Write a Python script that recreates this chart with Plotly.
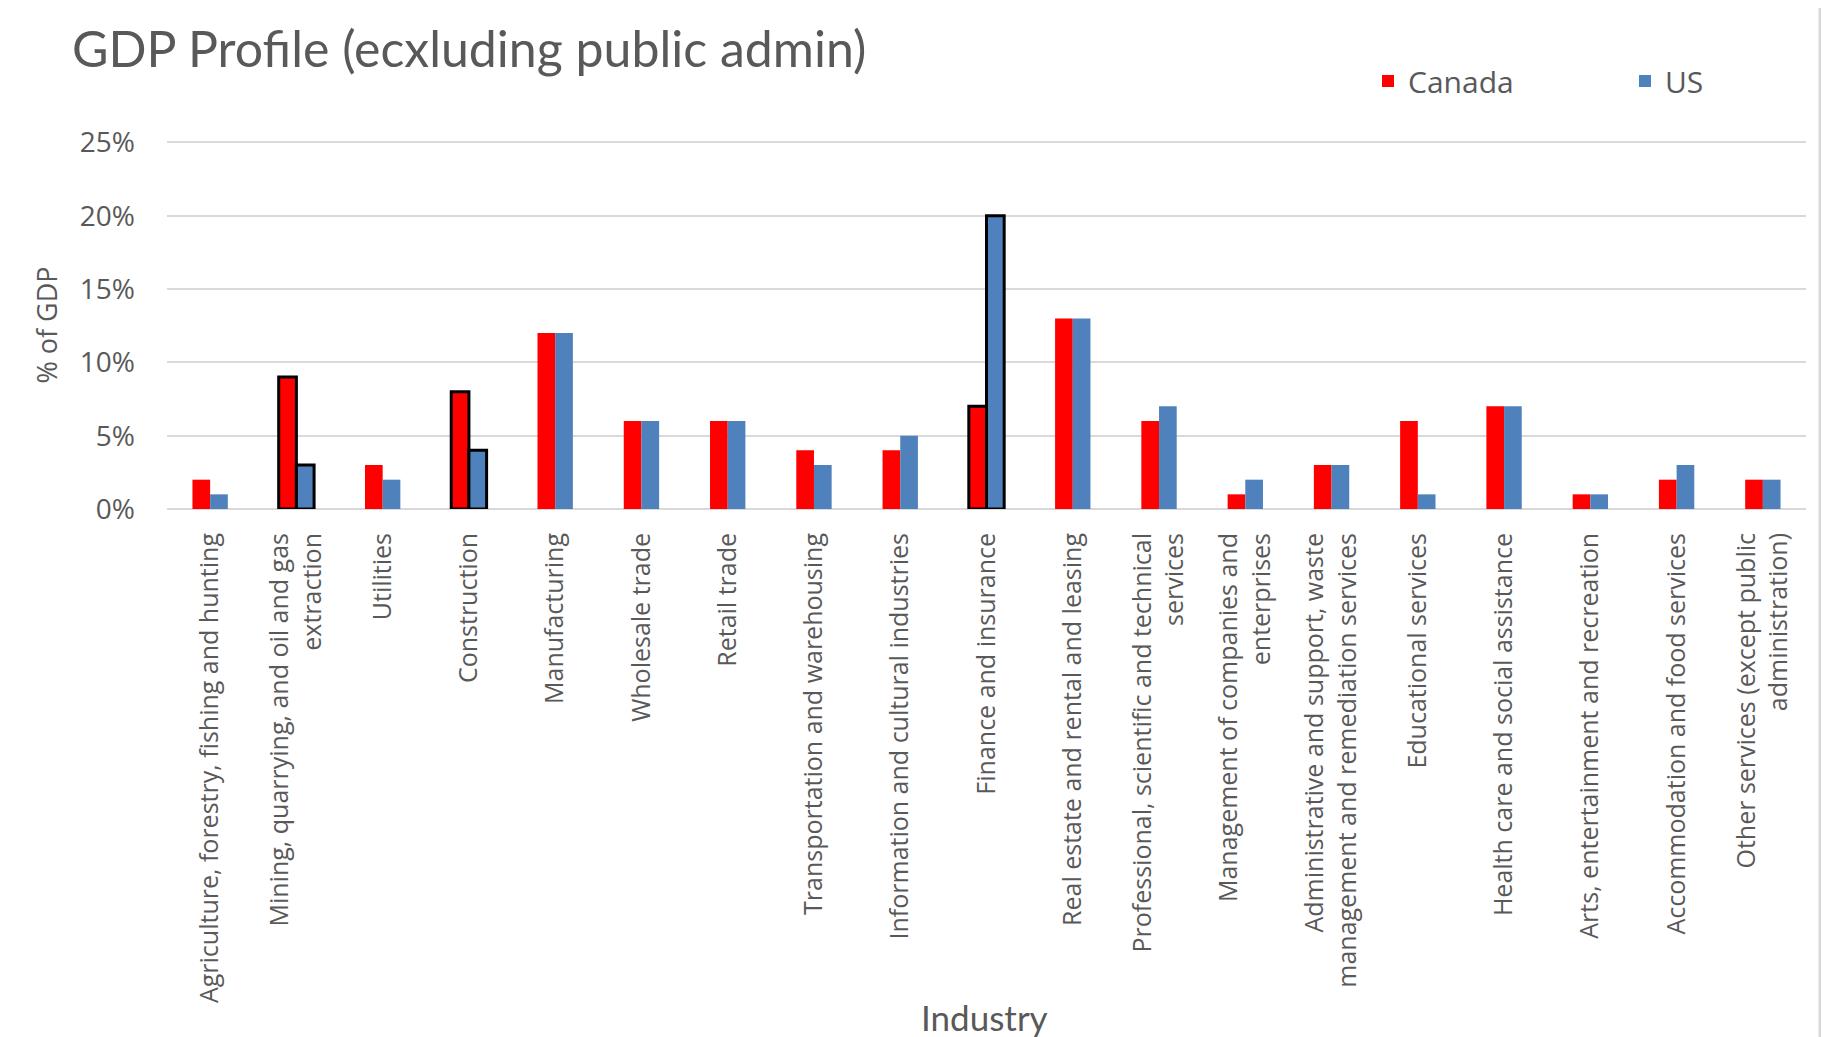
import plotly.graph_objects as go

industries = [
    "Agriculture, forestry, fishing and hunting",
    "Mining, quarrying, and oil and gas<br>extraction",
    "Utilities",
    "Construction",
    "Manufacturing",
    "Wholesale trade",
    "Retail trade",
    "Transportation and warehousing",
    "Information and cultural industries",
    "Finance and insurance",
    "Real estate and rental and leasing",
    "Professional, scientific and technical<br>services",
    "Management of companies and<br>enterprises",
    "Administrative and support, waste<br>management and remediation services",
    "Educational services",
    "Health care and social assistance",
    "Arts, entertainment and recreation",
    "Accommodation and food services",
    "Other services (except public<br>administration)",
]
canada = [2, 9, 3, 8, 12, 6, 6, 4, 4, 7, 13, 6, 1, 3, 6, 7, 1, 2, 2]
us = [1, 3, 2, 4, 12, 6, 6, 3, 5, 20, 13, 7, 2, 3, 1, 7, 1, 3, 2]
highlighted = ["Mining, quarrying, and oil and gas<br>extraction", "Construction", "Finance and insurance"]
y_tickvals = [0, 5, 10, 15, 20, 25]
y_ticktext = ["0%", "5%", "10%", "15%", "20%", "25%"]

outline = [3 if c in highlighted else 0 for c in industries]

TXT = "#595959"
GRID = "#D9D9D9"

# the page body adds an 8px offset; figure is sized so it fits the 1829x1037 window
OFF = 8
W, H = 1829 - OFF, 1037 - OFF
ML, MR, MT, MB = 167 - OFF, 23, 141 - OFF, 528
PW, PH = W - ML - MR, H - MT - MB


def px_x(x):
    return (x - OFF - ML) / PW


def px_y(y):
    return (H - MB - (y - OFF)) / PH


fig = go.Figure()
fig.add_trace(go.Bar(name="Canada", x=industries, y=canada, legend="legend",
                     marker=dict(color="#FF0000", line=dict(color="black", width=outline)),
                     cliponaxis=False))
fig.add_trace(go.Bar(name="US", x=industries, y=us, legend="legend2",
                     marker=dict(color="#4F81BD", line=dict(color="black", width=outline)),
                     cliponaxis=False))

legend_style = dict(orientation="h", xanchor="left", yanchor="middle", y=px_y(81),
                    font=dict(family="Open Sans", size=30, color=TXT),
                    bgcolor="rgba(0,0,0,0)", borderwidth=0)

fig.update_layout(
    width=W, height=H,
    paper_bgcolor="white", plot_bgcolor="white",
    margin=dict(l=ML, r=MR, t=MT, b=MB, autoexpand=False),
    barmode="group", bargap=0.59, bargroupgap=0,
    font=dict(family="Open Sans", color=TXT),
    title=dict(text="GDP Profile (ecxluding public admin)", x=(72 - OFF) / W, xref="container",
               xanchor="left", y=1 - (49 - OFF) / H, yanchor="middle",
               font=dict(family="Lato", size=50, color=TXT)),
    legend=dict(x=px_x(1368), **legend_style),
    legend2=dict(x=px_x(1625), **legend_style),
    showlegend=True,
)
fig.update_yaxes(range=[0, 25.1], tickvals=y_tickvals, ticktext=y_ticktext,
                 automargin=False,
                 showgrid=True, gridcolor=GRID, gridwidth=1.5,
                 zeroline=True, zerolinecolor=GRID, zerolinewidth=1.5,
                 showline=False, ticks="", ticklabelstandoff=31,
                 tickfont=dict(family="Open Sans", size=28, color=TXT),
                 title=dict(text="% of GDP", standoff=14,
                            font=dict(family="Open Sans", size=27, color=TXT)))
fig.update_xaxes(tickangle=-90, showline=False, ticks="", showgrid=False,
                 automargin=False, ticklabelstandoff=18,
                 tickfont=dict(family="Open Sans", size=25, color=TXT))
fig.add_annotation(text="Industry", xref="paper", yref="paper",
                   x=px_x(984), y=px_y(1017), xanchor="center", yanchor="middle",
                   showarrow=False, font=dict(family="Lato", size=35, color=TXT))
fig.add_shape(type="rect", xref="paper", yref="paper",
              x0=px_x(5), x1=px_x(1820), y0=px_y(1050), y1=px_y(4),
              line=dict(color=GRID, width=3), fillcolor="rgba(0,0,0,0)", layer="below")

fig.write_html("out.html")
